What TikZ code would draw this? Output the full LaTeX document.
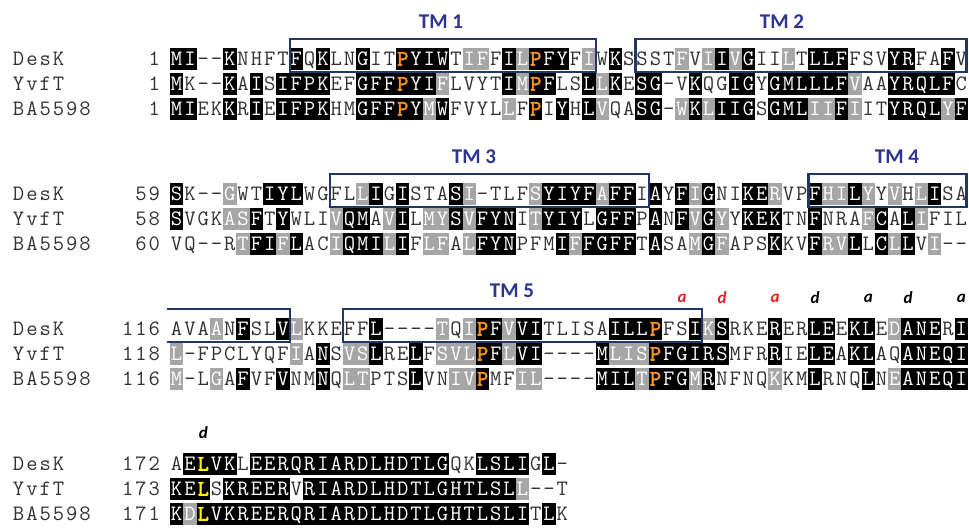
\documentclass[tikz,border=0pt]{standalone}
\usepackage{fontspec}
\usepackage{xstring}
\newfontfamily\labelfont{Carlito}
\newfontfamily\seqboldfam{Latin Modern Mono}[FakeBold=2.5]
\newcommand\seqfont{\ttfamily\fontsize{22}{22}\selectfont}
\newcommand\seqbold{\seqboldfam\fontsize{22}{22}\selectfont}

\definecolor{seqtext}{RGB}{50,50,50}
\definecolor{shadegray}{RGB}{166,166,166}
\definecolor{porange}{RGB}{247,148,29}
\definecolor{lyellow}{RGB}{255,242,0}
\definecolor{tmblue}{RGB}{46,52,146}
\definecolor{boxblue}{RGB}{31,56,100}
\definecolor{hepred}{RGB}{237,28,36}

% one alignment row: #1 prefix, #2 x start, #3 y, #4 residues, #5 shading (w/b/g/p/y)
\newcommand\seqrow[5]{%
  \StrLen{#4}[\seqlen]%
  \foreach \k in {1,...,\seqlen}{%
    \StrChar{#4}{\k}[\res]%
    \StrChar{#5}{\k}[\shd]%
    \node[cell, cell\shd] (#1-\k) at ({#2+13.3*(\k-0.5)}, #3) {\res};
  }}
% plain text in the same 13.3pt grid (names, numbers)
\newcommand\plainrow[4]{%
  \StrLen{#4}[\plainlen]%
  \foreach \k in {1,...,\plainlen}{%
    \StrChar{#4}{\k}[\res]%
    \node[cell, cellw] (#1-\k) at ({#2+13.3*(\k-0.5)}, #3) {\res};
  }}

\begin{document}
\begin{tikzpicture}[
    x=1pt, y=-1pt,
    cell/.style={minimum width=13.45pt, minimum height=22pt, inner sep=0pt,
      text height=13pt, text depth=0pt, font=\seqfont},
    cellw/.style={text=seqtext},
    cellb/.style={fill=black, text=white},
    cellg/.style={fill=shadegray, text=white},
    cellp/.style={fill=black, text=porange, font=\seqbold},
    celly/.style={fill=black, text=lyellow, font=\seqbold},
    tmlabel/.style={text=tmblue, font=\labelfont\bfseries\fontsize{21}{21}\selectfont},
    tmbox/.style={draw=boxblue, line width=2.2pt},
    hep/.style={font=\labelfont\bfseries\itshape\fontsize{17}{17}\selectfont},
    hepa/.style={hep, text=hepred},
    hepb/.style={hep, text=black}
]
\useasboundingbox (0,0) rectangle (969,528);

% sequence names and start numbers
\foreach \b/\y/\na/\nb/\nc in {1/59/1/1/1, 2/194/59/58/60, 3/329/116/118/116, 4/464/172/173/171}{
  \plainrow{desk\b}{12}{\y}{DesK}
  \plainrow{yvft\b}{12}{\y+25}{YvfT}
  \plainrow{ba\b}{12}{\y+50}{BA5598}
  \StrLen{\na}[\la]\StrLen{\nb}[\lb]\StrLen{\nc}[\lc]
  \plainrow{ndesk\b}{161-13.3*\la}{\y}{\na}
  \plainrow{nyvft\b}{161-13.3*\lb}{\y+25}{\nb}
  \plainrow{nba\b}{161-13.3*\lc}{\y+50}{\nc}
}

% block 1
\seqrow{a1}{170}{59}{MI--KNHFTFQKLNGITPYIWTIFFILPFYFIWKSSSTFVIIVGIILTLLFFSVYRFAFV}
  {bbwwbwwwwbwbwwbwwpbbbwggwbgpbbwgwbwwwwgwgbgbwwgwbbbwwwbbwwbw}
\seqrow{b1}{170}{84}{MK--KAISIFPKEFGFFPYIFLVYTIMPFLSLLKESG-VKQGIGYGMLLLFVAAYRQLFC}
  {bwwwbwbwbbbbwwbbbpbbgwwwwbgpbwwbgbwbbwwbwwbbwbbbbbbgwwbbbbbw}
\seqrow{c1}{170}{109}{MIEKKRIEIFPKHMGFFPYMWFVYLLFPIYHLVQASG-WKLIIGSGMLIIFIITYRQLYF}
  {bbwwbwbwbbbbwwbbbpbgbwwwwgwpwbwbgwwbbwgbgbbbwbbbggbgwwbbbbgb}

% block 2
\seqrow{a2}{170}{194}{SK--GWTIYLWGFLLIGISTASI-TLFSYIYFAFFIAYFIGNIKERVPFHILYYVHLISA}
  {bwwwgwwbbbwwwwgbwbwwwbgwwwwgbbbbgbbwbwbgbwwbbgwwbggbgwgwgbww}
\seqrow{b2}{170}{219}{SVGKASFTYWLIVQMAVILMYSVFYNITYIYLGFFPANFVGYYKEKTNFNRAFCALIFIL}
  {bwwwggbwbwwwgbbwgbwggbgbbbwgbbbwbbbwbwbgbgwbbbwwbwwwgbwbgwww}
\seqrow{c2}{170}{244}{VQ--RTFIFLACIQMILIFLFALFYNPFMIFFGFFTASAMGFAPSKKVFRVLLCLLVI--}
  {wwwwwgbbgbwwgbbbgbwggwgbbbwwwbgbbbbwbwwgbgwwwbwwbggbwbgbwgww}

% block 3
\seqrow{a3}{170}{329}{AVAANFSLVLKKEFFL----TQIPFVVITLISAILLPFSIKSRKERERLEEKLEDANERI}
  {wwwgwbwwbgwwwwwbwwwwgwgpbgbbwwwwwbbbpwwbgbwwwbwwbbwbbwgbbbwb}
\seqrow{b3}{170}{354}{L-FPCLYQFIANSVSLRELFSVLPFLVI----MLISPFGIRSMFRRIELEAKLAQANEQI}
  {gwwwwwwwwgwbwggbwwbwgggpbgbbwwwwbgggpbbbbbwwwbwwbbwbbwwbbbbb}
\seqrow{c3}{170}{379}{M-LGAFVFVNMNQLTPTSLVNIVPMFIL----MILTPFGMRNFNQKKMLRNQLNEANEQI}
  {gwwgwbwwbwwbwggwwwbwwggpwwggwwwwbbbgpbbgbwwwwgwwbwwwbwgbbbbb}

% block 4
\seqrow{a4}{170}{464}{AELVKLEERQRIARDLHDTLGQKLSLIGL-}
  {wbybbwbbbbbbbbbbbbbbbwwbbbbwbw}
\seqrow{b4}{170}{489}{KELSKREERVRIARDLHDTLGHTLSLL--T}
  {bbywbbbbbwbbbbbbbbbbbbbbbbgwww}
\seqrow{c4}{170}{514}{KDLVKREERQRIARDLHDTLGHTLSLITLK}
  {bgybbbbbbbbbbbbbbbbbbbbbbbbwbw}

% transmembrane boxes
\draw[tmbox] (289.7,39) rectangle (595.6,72);
\draw[tmbox] (635.5,39) rectangle (966.5,72);
\draw[tmbox] (329.6,174) rectangle (648.8,207);
\draw[tmbox] (808.4,174) rectangle (966.5,207);
\draw[tmbox] (167,309) -- (289.7,309) -- (289.7,342) -- (167,342);
\draw[tmbox] (342.9,309) rectangle (702.0,342);

% TM labels
\node[tmlabel] (tm1) at (441,22) {TM 1};
\node[tmlabel] (tm2) at (782,22) {TM 2};
\node[tmlabel] (tm3) at (474,157) {TM 3};
\node[tmlabel] (tm4) at (897,157) {TM 4};
\node[tmlabel] (tm5) at (512,291) {TM 5};

% heptad positions
\node[hepa] (hep1) at (682.1,298) {a};
\node[hepa] (hep2) at (722.0,298) {d};
\node[hepa] (hep3) at (775.2,298) {a};
\node[hepb] (hep4) at (815.1,298) {d};
\node[hepb] (hep5) at (868.3,298) {a};
\node[hepb] (hep6) at (908.2,298) {d};
\node[hepb] (hep7) at (961.4,298) {a};
\node[hepb] (hep8) at (203.3,433) {d};

\end{tikzpicture}
\end{document}
